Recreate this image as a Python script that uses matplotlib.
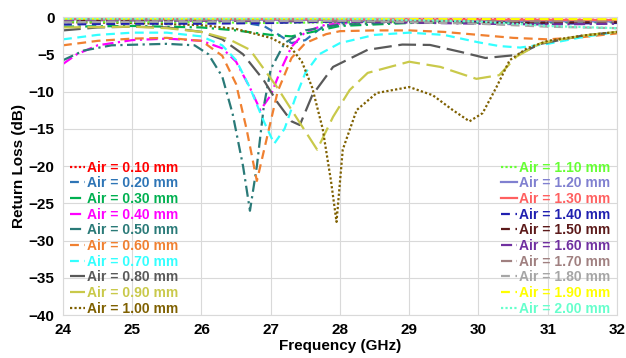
import matplotlib
matplotlib.use("Agg")
import matplotlib.pyplot as plt

labels = ["Air = 0.10 mm", "Air = 0.20 mm", "Air = 0.30 mm", "Air = 0.40 mm", "Air = 0.50 mm",
          "Air = 0.60 mm", "Air = 0.70 mm", "Air = 0.80 mm", "Air = 0.90 mm", "Air = 1.00 mm",
          "Air = 1.10 mm", "Air = 1.20 mm", "Air = 1.30 mm", "Air = 1.40 mm", "Air = 1.50 mm",
          "Air = 1.60 mm", "Air = 1.70 mm", "Air = 1.80 mm", "Air = 1.90 mm", "Air = 2.00 mm"]

colors = ["#FF0000", "#2E75B6", "#00B050", "#FF00FF", "#2A7A78",
          "#F08030", "#33FFFF", "#595959", "#C9C94A", "#7F6000",
          "#66FF33", "#8080D0", "#FF6060", "#2020B0", "#5C1A1A",
          "#7030A0", "#A08080", "#A6A6A6", "#FFFF00", "#66FFCC"]

# frequency (GHz) / return loss (dB)
f01 = [24, 26, 28, 30, 32]
r01 = [-0.4, -0.3, -0.3, -0.3, -0.4]
f02 = [24, 25, 26, 26.5, 26.9, 27.1, 27.3, 27.5, 27.68, 27.8, 28.2, 29, 32]
r02 = [-0.6, -0.6, -0.6, -0.6, -1.2, -2.3, -3.5, -3.1, -1.8, -1.1, -0.6, -0.5, -0.5]
f03 = [24, 25, 26, 26.5, 27, 27.3, 27.6, 28, 29, 32]
r03 = [-1.3, -1.2, -1.4, -1.8, -2.4, -2.6, -2.0, -1.2, -0.8, -0.7]
f04 = [24, 24.2, 24.5, 25, 25.5, 26, 26.3, 26.5, 26.7, 26.85, 27.0, 27.15, 27.3, 27.5, 27.8, 28.5, 32]
r04 = [-6.3, -5.0, -3.8, -3.1, -2.9, -3.2, -4.2, -6.0, -9.5, -12.5, -10.5, -7.0, -4.0, -2.0, -1.0, -0.6, -0.5]
f05 = [24, 24.3, 24.7, 25.5, 25.9, 26.1, 26.3, 26.45, 26.6, 26.7, 26.8, 26.9, 27.0, 27.2, 27.5, 28, 29, 32]
r05 = [-5.8, -4.5, -3.8, -3.6, -3.8, -5.0, -8.0, -13.0, -20.0, -26.0, -20.0, -12.0, -7.0, -3.5, -1.8, -1.0, -0.7, -0.6]
f06 = [24, 24.5, 25, 25.5, 26, 26.3, 26.5, 26.65, 26.8, 26.95, 27.1, 27.3, 27.5, 27.8, 28, 28.5, 29,
       29.5, 30, 30.5, 31, 31.5, 32]
r06 = [-3.8, -3.2, -2.9, -2.8, -3.2, -5.2, -9.0, -15.0, -22.0, -16.0, -10.0, -5.5, -3.5, -2.3, -1.9,
       -1.8, -1.8, -2.0, -2.4, -2.8, -3.0, -2.7, -2.2]
f07 = [24, 24.5, 25, 25.5, 26, 26.3, 26.5, 26.7, 26.9, 27.05, 27.2, 27.35, 27.5, 27.7, 28, 28.5, 29,
       29.5, 30, 30.3, 30.6, 31, 31.5, 32]
r07 = [-3.0, -2.4, -2.1, -2.1, -2.6, -3.8, -5.8, -9.5, -14.0, -17.0, -15.0, -11.0, -7.5, -5.0, -3.5,
       -2.4, -2.1, -2.4, -3.4, -3.9, -4.1, -3.6, -2.7, -2.0]
f08 = [24, 24.5, 25, 25.5, 26, 26.3, 26.6, 26.9, 27.1, 27.3, 27.42, 27.6, 27.9, 28.4, 28.9, 29.3,
       29.75, 30.1, 30.55, 30.9, 31.5, 32]
r08 = [-1.8, -1.4, -1.3, -1.4, -2.0, -3.0, -5.0, -8.5, -11.5, -14.0, -14.5, -10.5, -6.7, -4.4, -3.7,
       -3.75, -4.7, -5.5, -5.1, -3.6, -2.5, -2.0]
f09 = [24, 25, 25.5, 26, 26.4, 26.7, 27.09, 27.42, 27.67, 27.9, 28.14, 28.4, 29.0, 29.45, 29.97,
       30.3, 30.55, 30.9, 31.5, 32]
r09 = [-1.4, -1.3, -1.5, -2.0, -3.0, -4.4, -9.4, -14.2, -17.8, -13.4, -9.8, -7.5, -6.0, -6.7, -8.3,
       -7.8, -5.3, -3.5, -2.5, -2.0]
f10 = [24, 25, 26, 26.5, 27, 27.3, 27.45, 27.6, 27.75, 27.87, 27.95, 28.04, 28.24, 28.53, 29.0,
       29.34, 29.63, 29.87, 30.06, 30.26, 30.45, 30.7, 31, 31.5, 32]
r10 = [-0.7, -0.8, -1.1, -1.6, -2.8, -4.2, -6.0, -9.5, -15.0, -22.0, -27.5, -17.8, -12.5, -10.2, -9.4,
       -10.5, -12.5, -14.0, -12.9, -9.4, -5.8, -4.2, -3.2, -2.5, -2.0]
f11 = [24, 26, 27, 28, 30, 32]
r11 = [-0.6, -0.7, -0.8, -0.7, -0.5, -0.4]
f12 = [24, 28, 30, 32]
r12 = [-0.3, -0.4, -0.5, -0.6]
f13 = [24, 28, 32]
r13 = [-0.2, -0.3, -0.4]
f14 = [24, 25, 26, 27, 28, 30, 31, 32]
r14 = [-1.0, -0.9, -0.9, -0.8, -0.6, -0.7, -0.9, -0.8]
f15 = [24, 28, 30, 32]
r15 = [-0.5, -0.5, -0.8, -0.7]
f16 = [24, 28, 30, 31, 32]
r16 = [-0.4, -0.6, -0.9, -1.0, -0.9]
f17 = [24, 28, 32]
r17 = [-0.3, -0.5, -0.6]
f18 = [24, 26, 28, 30, 31, 32]
r18 = [-0.7, -0.6, -0.5, -0.9, -1.3, -1.5]
f19 = [24, 28, 32]
r19 = [-0.2, -0.2, -0.3]
f20 = [24, 28, 30, 31, 32]
r20 = [-0.2, -0.2, -0.6, -1.2, -1.5]

freqs = [f01, f02, f03, f04, f05, f06, f07, f08, f09, f10, f11, f12, f13, f14, f15, f16, f17, f18, f19, f20]
rls = [r01, r02, r03, r04, r05, r06, r07, r08, r09, r10, r11, r12, r13, r14, r15, r16, r17, r18, r19, r20]

styles = [(0, (1, 1)), (0, (4, 2.5)), (0, (5, 2, 1, 2)), (0, (5, 2, 1, 2)), (0, (5, 2, 1, 2)),
          (0, (4, 2.5)), (0, (4, 2.5)), (0, (8, 3)), (0, (8, 3)), (0, (1, 1)),
          (0, (1, 1)), "-", "-", (0, (4, 2.5)), (0, (4, 2.5)),
          (0, (5, 2, 1, 2)), (0, (5, 2, 1, 2)), (0, (4, 2.5)), (0, (4, 2.5)), (0, (1, 1))]

plt.rcParams['font.family'] = ['Liberation Sans', 'DejaVu Sans']
fig = plt.figure(figsize=(6.26, 3.58), dpi=100)
ax = fig.add_axes([0.1006, 0.12, 0.885, 0.8325])

lines = []
for f, r, c, ls, lab in zip(freqs, rls, colors, styles, labels):
    ln, = ax.plot(f, r, color=c, linestyle=ls, linewidth=1.6, label=lab)
    lines.append(ln)

ax.set_xlim(24, 32)
ax.set_ylim(-40, 0)
ax.set_xticks(range(24, 33))
ax.set_yticks(range(-40, 1, 5))
ax.grid(True, color="#D9D9D9", linewidth=0.8)
ax.set_axisbelow(True)
for s in ax.spines.values():
    s.set_color("#D9D9D9")
ax.tick_params(length=0, labelsize=11, pad=6)
for t in ax.get_xticklabels() + ax.get_yticklabels():
    t.set_fontweight("bold")
ax.set_xlabel("Frequency (GHz)", fontsize=11, fontweight="bold", labelpad=1)
ax.set_ylabel("Return Loss (dB)", fontsize=11, fontweight="bold", labelpad=2)

lp = {'weight': 'bold', 'size': 10}
leg1 = ax.legend(lines[:10], labels[:10], loc="lower left", bbox_to_anchor=(0.0, -0.025),
                 frameon=False, prop=lp,
                 handlelength=1.1, handletextpad=0.15, labelspacing=0.12, borderaxespad=0.1)
for t, l in zip(leg1.get_texts(), lines[:10]):
    t.set_color(l.get_color())
ax.add_artist(leg1)
leg2 = ax.legend(lines[10:], labels[10:], loc="lower right", bbox_to_anchor=(1.0, -0.025),
                 frameon=False, prop=lp,
                 handlelength=1.1, handletextpad=0.15, labelspacing=0.12, borderaxespad=0.1)
for t, l in zip(leg2.get_texts(), lines[10:]):
    t.set_color(l.get_color())

fig.savefig("out.png", dpi=100)
